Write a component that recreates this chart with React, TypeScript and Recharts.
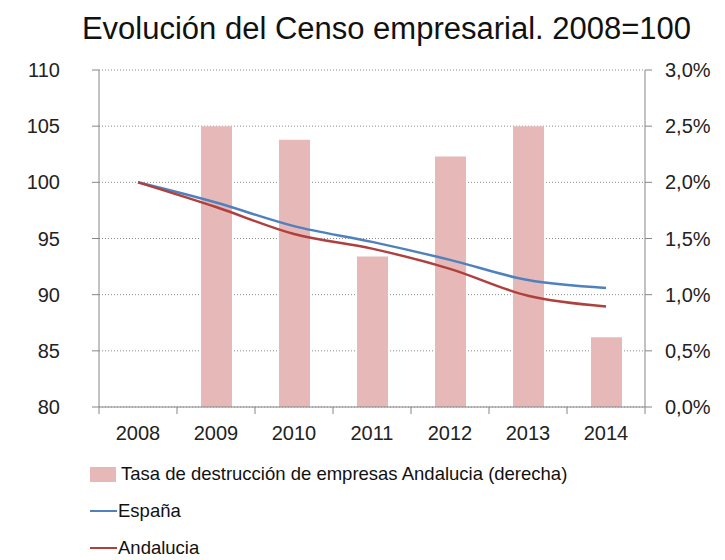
import React from "react";
import {
  ComposedChart,
  Bar,
  Line,
  XAxis,
  YAxis,
  CartesianGrid,
  Legend,
} from "recharts";

const years = ["2008", "2009", "2010", "2011", "2012", "2013", "2014"];
const tasaDestruccion = [null, 2.5, 2.38, 1.34, 2.23, 2.5, 0.62];
const espana = [100, 98.2, 96.1, 94.7, 93.1, 91.3, 90.6];
const andalucia = [100, 97.8, 95.4, 94.1, 92.3, 89.9, 88.95];

const leftTicks = [80, 85, 90, 95, 100, 105, 110];
const rightTicks = [0, 0.5, 1, 1.5, 2, 2.5, 3];

const data = years.map((year, i) => ({
  year,
  tasa: tasaDestruccion[i],
  espana: espana[i],
  andalucia: andalucia[i],
}));

const FONT = '"Liberation Sans", Arial, sans-serif';
const AXIS = "#868686";
const COLORS = {
  bar: "#e6b8b7",
  espana: "#4f81bd",
  andalucia: "#b0403d",
};
// legend order as in the original chart
const LEGEND_ORDER = ["tasa", "espana", "andalucia"];

const XTick = (props: any) => {
  const { x, y, payload, index } = props;
  const half = payload?.offset ?? 39;
  const last = index === years.length - 1;
  return (
    <g>
      <line x1={x - half} x2={x - half} y1={y} y2={y + 7} stroke={AXIS} />
      {last && <line x1={x + half} x2={x + half} y1={y} y2={y + 7} stroke={AXIS} />}
      <text
        x={x}
        y={y + 33}
        textAnchor="middle"
        fontSize={20}
        fontFamily={FONT}
        fill="#222"
      >
        {payload.value}
      </text>
    </g>
  );
};

const LegendContent = (props: any) => {
  const items = [...(props.payload || [])].sort(
    (a: any, b: any) => LEGEND_ORDER.indexOf(a.dataKey) - LEGEND_ORDER.indexOf(b.dataKey)
  );
  return (
    <div style={{ position: "relative", height: 108, fontFamily: FONT, fontSize: 18.5, color: "#111" }}>
      {items.map((it: any, i: number) => (
        <div
          key={it.value}
          style={{
            position: "absolute",
            left: 90,
            top: 4 + i * 37,
            height: 36,
            display: "flex",
            alignItems: "center",
            whiteSpace: "nowrap",
          }}
        >
          {it.type === "rect" ? (
            <span style={{ display: "inline-block", width: 26, height: 15, background: it.color }} />
          ) : (
            <span style={{ display: "inline-block", width: 27, height: 2, background: it.color }} />
          )}
          <span style={{ marginLeft: it.type === "rect" ? 5 : 1 }}>{it.value}</span>
        </div>
      ))}
    </div>
  );
};

export default function App() {
  return (
    <div style={{ position: "absolute", left: 0, top: 0, width: 725, height: 560, background: "#fff" }}>
      <div
        style={{
          position: "absolute",
          left: 24,
          top: 13,
          width: 725,
          textAlign: "center",
          fontFamily: FONT,
          fontSize: 31,
          lineHeight: "31px",
          color: "#111",
          whiteSpace: "nowrap",
        }}
      >
        Evolución del Censo empresarial. 2008=100
      </div>
      <ComposedChart
        width={725}
        height={560}
        data={data}
        margin={{ top: 70, right: 0, bottom: 0, left: 0 }}
      >
        <CartesianGrid
          yAxisId="left"
          vertical={false}
          stroke="#8a8a8a"
          strokeDasharray="1 2"
        />
        <XAxis
          dataKey="year"
          height={45}
          tickSize={0}
          tickMargin={0}
          tickLine={false}
          axisLine={{ stroke: AXIS }}
          tick={<XTick />}
          interval={0}
        />
        <YAxis
          yAxisId="left"
          orientation="left"
          width={99}
          domain={[80, 110]}
          ticks={leftTicks}
          interval={0}
          tickSize={7}
          tickMargin={32}
          axisLine={{ stroke: AXIS }}
          tickLine={{ stroke: AXIS }}
          tick={{ fontSize: 20, fontFamily: FONT, fill: "#222" }}
        />
        <YAxis
          yAxisId="right"
          orientation="right"
          width={80}
          domain={[0, 3]}
          ticks={rightTicks}
          interval={0}
          tickSize={7}
          tickMargin={13}
          axisLine={{ stroke: AXIS }}
          tickLine={{ stroke: AXIS }}
          tick={{ fontSize: 20, fontFamily: FONT, fill: "#222", textAnchor: "start" }}
          tickFormatter={(v: number) => `${v.toFixed(1).replace(".", ",")}%`}
        />
        <Legend
          verticalAlign="bottom"
          align="left"
          layout="horizontal"
          wrapperStyle={{ left: 0, width: 725, bottom: 0 }}
          content={<LegendContent />}
        />
        <Bar
          yAxisId="right"
          dataKey="tasa"
          name="Tasa de destrucción de empresas Andalucia (derecha)"
          fill={COLORS.bar}
          barSize={31}
          legendType="rect"
          isAnimationActive={false}
        />
        <Line
          yAxisId="left"
          type="monotone"
          dataKey="espana"
          name="España"
          stroke={COLORS.espana}
          strokeWidth={2.5}
          dot={false}
          legendType="line"
          isAnimationActive={false}
        />
        <Line
          yAxisId="left"
          type="monotone"
          dataKey="andalucia"
          name="Andalucia"
          stroke={COLORS.andalucia}
          strokeWidth={2.5}
          dot={false}
          legendType="line"
          isAnimationActive={false}
        />
      </ComposedChart>
    </div>
  );
}
